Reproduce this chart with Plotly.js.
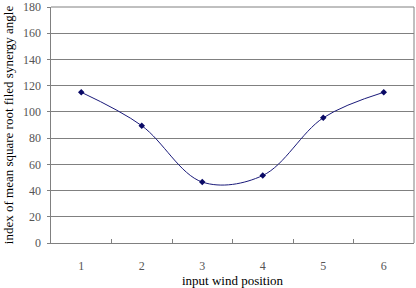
<!DOCTYPE html>
<html><head><meta charset="utf-8">
<script src="https://cdn.plot.ly/plotly-3.0.1.min.js"></script>
<style>html,body{margin:0;padding:0;background:#fff;}#c{width:416px;height:288px;}</style>
</head><body><div id="c"></div>
<script>
var positions = [1, 2, 3, 4, 5, 6];
var synergyIndex = [115, 89.5, 46.5, 51.5, 95.5, 115];
var yTicks = [0, 20, 40, 60, 80, 100, 120, 140, 160, 180];

var font = {family: 'Liberation Serif, Times New Roman, serif', color: '#000', size: 12};
var data = [{
  x: positions, y: synergyIndex, type: 'scatter', mode: 'lines+markers',
  line: {shape: 'spline', smoothing: 1, color: '#1a1a7a', width: 1},
  marker: {symbol: 'diamond', size: 5, color: '#0a0a66'},
  xaxis: 'x', yaxis: 'y', hoverinfo: 'none', cliponaxis: false
}, {
  x: [0.5, 6.5], y: [null, null], xaxis: 'x2', yaxis: 'y', showlegend: false, hoverinfo: 'none'
}];
var layout = {
  width: 416, height: 288, showlegend: false,
  margin: {l: 51, r: 2, t: 7, b: 45},
  paper_bgcolor: '#fff', plot_bgcolor: '#fff', font: font,
  xaxis: {range: [0.5, 6.5], tickvals: positions, ticktext: positions.map(String),
    ticks: '', ticklabelstandoff: 12, showgrid: false, zeroline: false, showline: true, linecolor: '#808080', linewidth: 1,
    mirror: false, tickfont: {family: font.family, size: 12, color: '#555'},
    title: {text: 'input wind position', font: {family: font.family, size: 13, color: '#000'}, standoff: 4}},
  xaxis2: {range: [0.5, 6.5], overlaying: 'x', tickvals: [1.5, 2.5, 3.5, 4.5, 5.5], ticks: 'inside', ticklen: 4,
    tickcolor: '#808080', showticklabels: false, showgrid: false, zeroline: false, showline: false, side: 'bottom'},
  yaxis: {range: [0, 180.05], tickvals: yTicks, ticks: 'outside', ticklen: 3, tickcolor: '#808080', ticklabelstandoff: 3,
    ticklabeloverflow: 'allow',
    showgrid: true, gridcolor: '#808080', gridwidth: 1, zeroline: false,
    showline: true, linecolor: '#808080', linewidth: 1.5, mirror: false,
    tickfont: {family: font.family, size: 12, color: '#555'},
    title: {text: 'index of mean square root filed synergy angle', font: {family: font.family, size: 13, color: '#000'}, standoff: 6}},
  shapes: [{type: 'line', xref: 'paper', yref: 'paper', x0: 1, x1: 1, y0: 0, y1: 1, line: {color: '#808080', width: 1}},
           {type: 'line', xref: 'paper', yref: 'paper', x0: 0, x1: 1, y0: 1, y1: 1, line: {color: '#808080', width: 1}}]
};
Plotly.newPlot('c', data, layout, {staticPlot: true, displayModeBar: false});
</script></body></html>
